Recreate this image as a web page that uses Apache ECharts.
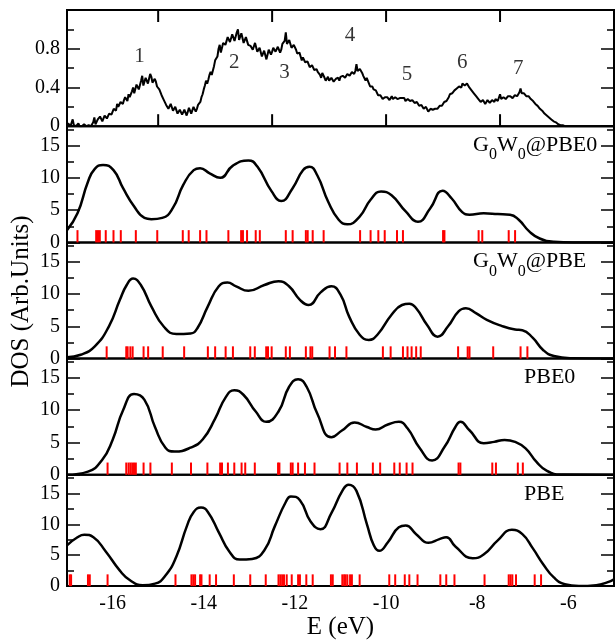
<!DOCTYPE html>
<html><head><meta charset="utf-8">
<script src="https://cdn.jsdelivr.net/npm/echarts@6/dist/echarts.min.js"></script>
<style>html,body{margin:0;padding:0;background:#fff}#c{width:615px;height:641px}</style>
</head><body><div id="c"></div>
<script>
// ---------- DATA ----------
const xTickLabels = [-16, -14, -12, -10, -8, -6];
const expTicksX = [-15, -12.5, -10, -7.5];
const expTicksMajorY = [0, 0.4, 0.8];
const expTicksMinorY = [0.2, 0.6, 1.0];
const dosTicksMajorY = [0, 5, 10, 15];
const dosTicksMinorY = [2.5, 7.5, 12.5, 17.5];

// experimental spectrum sampled from E=-17 to -5 every 0.025 eV (one row = 0.5 eV)
const expStartE = -17, expStepE = 0.025;
const expValues = [
0.00,0.03,0.01,0.00,0.02,0.07,0.01,0.00,0.00,0.02,0.03,0.00,0.01,0.00,0.00,0.02,0.01,0.00,0.00,0.01,
0.02,0.00,0.01,0.04,0.09,0.02,0.03,0.07,0.06,0.10,0.08,0.05,0.07,0.11,0.12,0.08,0.10,0.13,0.15,0.12,
0.14,0.18,0.20,0.16,0.23,0.20,0.21,0.25,0.26,0.23,0.27,0.30,0.30,0.26,0.33,0.30,0.31,0.36,0.40,0.34,
0.36,0.43,0.44,0.38,0.40,0.47,0.52,0.42,0.43,0.50,0.50,0.44,0.46,0.54,0.51,0.45,0.44,0.49,0.46,0.41,
0.40,0.38,0.36,0.32,0.30,0.27,0.25,0.22,0.23,0.18,0.19,0.23,0.21,0.16,0.15,0.20,0.19,0.13,0.13,0.17,
0.18,0.12,0.12,0.17,0.17,0.11,0.15,0.19,0.19,0.13,0.14,0.20,0.20,0.15,0.18,0.22,0.22,0.25,0.30,0.33,
0.38,0.42,0.47,0.44,0.48,0.53,0.56,0.53,0.55,0.62,0.68,0.66,0.72,0.80,0.84,0.76,0.77,0.86,0.88,0.84,
0.86,0.92,0.93,0.87,0.88,0.95,0.95,0.88,0.90,0.97,1.00,0.89,0.91,0.96,0.94,0.86,0.87,0.92,0.90,0.84,
0.85,0.83,0.83,0.79,0.80,0.86,0.84,0.77,0.76,0.81,0.80,0.72,0.72,0.78,0.78,0.69,0.71,0.79,0.80,0.74,
0.77,0.81,0.82,0.77,0.78,0.82,0.81,0.76,0.79,0.85,0.84,0.88,0.97,0.85,0.83,0.89,0.87,0.81,0.80,0.84,
0.82,0.79,0.75,0.77,0.76,0.72,0.68,0.71,0.71,0.66,0.64,0.67,0.66,0.61,0.60,0.63,0.62,0.58,0.56,0.59,
0.56,0.55,0.53,0.50,0.55,0.53,0.50,0.47,0.49,0.51,0.47,0.45,0.50,0.49,0.46,0.47,0.49,0.51,0.50,0.47,
0.51,0.49,0.52,0.54,0.50,0.52,0.54,0.55,0.52,0.53,0.56,0.58,0.54,0.57,0.64,0.57,0.55,0.59,0.57,0.55,
0.52,0.50,0.47,0.50,0.48,0.44,0.41,0.43,0.41,0.38,0.36,0.37,0.35,0.32,0.30,0.32,0.30,0.28,0.29,0.30,
0.28,0.30,0.30,0.27,0.29,0.31,0.28,0.27,0.30,0.29,0.28,0.30,0.29,0.27,0.29,0.28,0.29,0.26,0.27,0.28,
0.28,0.26,0.25,0.27,0.27,0.24,0.22,0.25,0.24,0.21,0.20,0.22,0.21,0.18,0.17,0.20,0.19,0.15,0.16,0.18,
0.18,0.17,0.16,0.18,0.20,0.18,0.19,0.21,0.23,0.21,0.22,0.25,0.27,0.26,0.27,0.30,0.33,0.31,0.34,0.36,
0.37,0.36,0.39,0.41,0.41,0.39,0.40,0.44,0.46,0.42,0.42,0.44,0.43,0.40,0.39,0.37,0.36,0.34,0.33,0.31,
0.29,0.28,0.27,0.25,0.25,0.27,0.26,0.23,0.24,0.27,0.26,0.24,0.25,0.27,0.27,0.25,0.28,0.29,0.26,0.28,
0.33,0.28,0.27,0.30,0.29,0.28,0.30,0.31,0.29,0.31,0.31,0.29,0.30,0.32,0.32,0.31,0.33,0.35,0.39,0.34,
0.32,0.34,0.33,0.31,0.29,0.31,0.30,0.28,0.27,0.26,0.25,0.23,0.22,0.21,0.20,0.18,0.17,0.16,0.15,0.13,
0.12,0.11,0.10,0.09,0.08,0.07,0.06,0.05,0.05,0.04,0.03,0.02,0.02,0.01,0.01,0.01,0.00,0.00,0.00,0.00,
0,0,0,0,0,0,0,0,0,0,0,0,0,0,0,0,0,0,0,0,
0,0,0,0,0,0,0,0,0,0,0,0,0,0,0,0,0,0,0,0,
0];

const peakNames = ['1','2','3','4','5','6','7'];
const peakE = [-15.41, -13.33, -12.23, -10.79, -9.54, -8.33, -7.10];
const peakV = [0.715, 0.66, 0.55, 0.94, 0.53, 0.66, 0.60];

const panelNames = ['G0W0@PBE0', 'G0W0@PBE', 'PBE0', 'PBE'];

const gwPbe0Dos = [[-17.0,1.9],[-16.77,4.5],[-16.54,9.4],[-16.39,11.4],[-16.21,12.0],[-15.98,11.2],[-15.77,8.4],[-15.53,5.6],[-15.30,3.8],[-15.15,3.6],[-14.91,3.8],[-14.68,5.3],[-14.45,8.9],[-14.22,11.2],[-14.08,11.5],[-13.87,10.7],[-13.64,10.0],[-13.36,11.9],[-13.02,12.7],[-12.82,11.7],[-12.51,7.9],[-12.30,6.4],[-12.05,8.4],[-11.82,11.2],[-11.68,11.7],[-11.51,10.4],[-11.27,6.3],[-11.04,3.5],[-10.85,2.8],[-10.58,4.0],[-10.34,6.6],[-10.11,7.9],[-9.88,7.3],[-9.57,4.8],[-9.30,3.2],[-9.03,5.3],[-8.76,8.0],[-8.56,6.8],[-8.33,4.7],[-8.17,4.3],[-7.86,4.5],[-7.55,4.4],[-7.28,4.3],[-7.09,3.5],[-6.86,1.7],[-6.63,0.6],[-6.32,0.1],[-5.9,0],[-5.0,0]];
const gwPbeDos = [[-17.0,0.2],[-16.7,0.6],[-16.39,1.9],[-16.08,5.0],[-15.84,9.1],[-15.69,11.4],[-15.55,12.4],[-15.38,11.4],[-15.15,8.1],[-14.87,4.9],[-14.60,3.8],[-14.29,3.9],[-14.14,4.7],[-13.91,8.1],[-13.67,11.2],[-13.48,11.8],[-13.29,11.2],[-13.02,10.5],[-12.67,11.4],[-12.36,12.0],[-12.13,11.2],[-11.89,9.1],[-11.70,8.3],[-11.43,10.3],[-11.20,11.2],[-11.00,9.9],[-10.81,6.5],[-10.58,3.7],[-10.38,2.9],[-10.19,3.7],[-9.88,6.8],[-9.65,8.3],[-9.49,8.5],[-9.34,7.8],[-9.10,5.2],[-8.87,3.4],[-8.64,5.0],[-8.41,7.3],[-8.25,7.8],[-8.02,7.0],[-7.79,6.0],[-7.48,5.1],[-7.17,4.5],[-7.01,4.4],[-6.78,3.2],[-6.55,1.3],[-6.32,0.4],[-5.93,0.05],[-5.0,0]];
const pbe0Dos = [[-17.0,0],[-16.54,0.5],[-16.23,2.3],[-16.0,5.4],[-15.77,10.0],[-15.53,12.5],[-15.30,11.6],[-15.07,7.4],[-14.84,4.2],[-14.64,3.6],[-14.29,4.2],[-14.02,5.5],[-13.75,8.7],[-13.52,12.0],[-13.33,13.1],[-13.13,12.4],[-12.86,9.8],[-12.63,8.2],[-12.36,9.8],[-12.13,13.6],[-11.93,14.8],[-11.74,13.6],[-11.51,9.5],[-11.20,5.8],[-10.96,6.9],[-10.69,8.1],[-10.42,7.4],[-10.23,7.0],[-9.96,7.8],[-9.72,8.2],[-9.53,7.2],[-9.26,4.1],[-8.99,2.2],[-8.72,4.3],[-8.48,7.4],[-8.37,8.2],[-8.17,6.9],[-7.86,4.9],[-7.63,5.1],[-7.40,5.4],[-7.17,5.1],[-6.94,4.1],[-6.70,2.0],[-6.47,0.6],[-6.16,0.05],[-5.0,0]];
const pbeDos = [[-17.0,6.6],[-16.77,7.9],[-16.62,8.3],[-16.42,7.9],[-16.15,5.6],[-15.84,2.5],[-15.61,0.9],[-15.34,0.15],[-15.07,0.4],[-14.84,1.7],[-14.60,4.8],[-14.37,9.7],[-14.22,12.0],[-14.06,12.7],[-13.91,12.0],[-13.67,8.7],[-13.44,5.6],[-13.21,4.3],[-12.94,4.4],[-12.67,5.8],[-12.44,9.7],[-12.20,13.6],[-12.09,14.5],[-11.89,13.9],[-11.66,10.5],[-11.44,9.2],[-11.20,11.8],[-10.96,15.4],[-10.82,16.4],[-10.65,15.4],[-10.42,10.0],[-10.27,6.6],[-10.15,5.7],[-9.96,7.1],[-9.72,9.5],[-9.57,9.8],[-9.34,8.4],[-9.07,7.0],[-8.83,7.6],[-8.68,7.9],[-8.48,6.4],[-8.10,4.5],[-7.86,5.1],[-7.55,7.4],[-7.24,9.1],[-7.01,8.4],[-6.78,6.1],[-6.55,3.5],[-6.32,1.4],[-6.08,0.3],[-5.77,0.0],[-5.39,0.15],[-5.15,0.6],[-5.0,1.1]];

const gwPbe0Levels = [-16.77,-16.36,-16.32,-16.28,-16.15,-15.98,-15.82,-15.49,-15.02,-14.46,-14.33,-14.08,-13.94,-13.46,-13.18,-13.14,-13.05,-12.86,-12.77,-12.20,-12.05,-11.76,-11.72,-11.61,-11.37,-10.57,-10.34,-10.17,-10.03,-9.76,-9.63,-8.75,-8.72,-7.97,-7.89,-7.31,-7.17];
const gwPbeLevels = [-16.13,-15.70,-15.67,-15.61,-15.56,-15.32,-15.22,-14.90,-14.43,-13.91,-13.75,-13.52,-13.36,-12.98,-12.88,-12.63,-12.59,-12.51,-12.20,-12.11,-11.76,-11.66,-11.62,-11.24,-11.12,-10.87,-10.07,-9.90,-9.63,-9.53,-9.44,-9.34,-9.24,-8.42,-8.21,-8.17,-7.65,-7.05,-6.90];
const pbe0Levels = [-16.11,-15.70,-15.65,-15.61,-15.57,-15.53,-15.49,-15.32,-15.17,-14.70,-14.28,-13.92,-13.64,-13.60,-13.47,-13.33,-13.17,-13.09,-12.88,-12.37,-12.34,-12.09,-12.05,-11.93,-11.78,-11.57,-11.02,-10.85,-10.64,-10.29,-10.13,-9.82,-9.70,-9.55,-9.42,-8.41,-8.37,-7.67,-7.59,-7.11,-7.00];
const pbeLevels = [-16.94,-16.91,-16.54,-16.50,-16.11,-14.62,-14.27,-14.23,-14.19,-14.08,-14.05,-13.87,-13.73,-13.34,-12.98,-12.64,-12.36,-12.32,-12.28,-12.24,-12.18,-12.07,-11.93,-11.89,-11.75,-11.61,-11.21,-11.17,-10.96,-10.92,-10.89,-10.85,-10.79,-10.75,-10.58,-9.93,-9.80,-9.59,-9.49,-9.31,-8.81,-8.68,-8.50,-7.84,-7.31,-7.27,-7.23,-7.15,-6.74,-6.60];
const stickHeight = 1.9;

// ---------- CHART ----------
const FONT = 'Liberation Serif';
const dosCurves = [gwPbe0Dos, gwPbeDos, pbe0Dos, pbeDos];
const dosLevels = [gwPbe0Levels, gwPbeLevels, pbe0Levels, pbeLevels];
const panelH = 116.2, panelTop0 = 10;
const EXP_YMAX = 1.2;
const EXP_TICK = 0.124; // x tick length in the spectrum panel, in axis units (about 12 px)

const grids = [], xAxes = [], yAxes = [], series = [];
for (let i = 0; i < 5; i++) {
  grids.push({left: 67, width: 547, top: panelTop0 + i * panelH, height: panelH,
    show: true, borderColor: '#000', borderWidth: 2, backgroundColor: 'transparent', containLabel: false});
  const isExp = i === 0, isLast = i === 4;
  const ymax = isExp ? EXP_YMAX : 18;
  const maj = isExp ? expTicksMajorY : dosTicksMajorY;
  const mnr = isExp ? expTicksMinorY : dosTicksMinorY;
  const base = yAxes.length;
  ['left', 'right'].forEach(pos => {
    yAxes.push({gridIndex: i, type: 'value', min: 0, max: ymax, position: pos,
      axisLine: {show: false}, splitLine: {show: false},
      axisTick: {show: true, inside: true, length: 13, customValues: maj, lineStyle: {color: '#000', width: 1.5}},
      axisLabel: pos === 'left' ? {show: true, customValues: maj, fontSize: 20, fontFamily: FONT, color: '#000', margin: 7} : {show: false}});
    yAxes.push({gridIndex: i, type: 'value', min: 0, max: ymax, position: pos,
      axisLine: {show: false}, splitLine: {show: false}, axisLabel: {show: false},
      axisTick: {show: true, inside: true, length: 7, customValues: mnr, lineStyle: {color: '#000', width: 1.5}}});
  });
  let invAxis = null;
  if (isExp) {
    // hidden inverted axis: bars on it grow downward from the top edge (for the top tick row)
    invAxis = yAxes.length;
    yAxes.push({gridIndex: i, type: 'value', min: 0, max: EXP_YMAX, inverse: true, show: false});
  }
  xAxes.push({
    gridIndex: i, type: 'value', min: -17, max: -5,
    axisLine: {show: false}, splitLine: {show: false}, axisTick: {show: false},
    axisLabel: isLast ? {show: true, customValues: xTickLabels, fontSize: 20, fontFamily: FONT, color: '#000', margin: 8} : {show: false},
    name: isLast ? 'E (eV)' : '', nameLocation: 'middle', nameGap: 23,
    nameTextStyle: {fontSize: 25, fontFamily: FONT, color: '#000'}
  });
  if (isExp) {
    series.push({type: 'line', xAxisIndex: i, yAxisIndex: base, showSymbol: false, silent: true,
      lineStyle: {color: '#000', width: 2}, data: expValues.map((v, k) => [expStartE + k * expStepE, v])});
    series.push({type: 'scatter', xAxisIndex: i, yAxisIndex: base, symbolSize: 0, silent: true,
      data: peakNames.map((n, k) => [peakE[k], peakV[k], n]),
      label: {show: true, position: 'inside', formatter: p => p.value[2], fontSize: 21, fontFamily: FONT, color: '#000'}});
    // inward x tick marks on the bottom and top edges of the spectrum panel, drawn as thin bars on the axis scale
    series.push({type: 'bar', xAxisIndex: i, yAxisIndex: base, barWidth: 2, barGap: '-100%', silent: true,
      itemStyle: {color: '#000'}, data: expTicksX.map(v => [v, EXP_TICK])});
    series.push({type: 'bar', xAxisIndex: i, yAxisIndex: invAxis, barWidth: 2, barGap: '-100%', silent: true,
      itemStyle: {color: '#000'}, data: expTicksX.map(v => [v, EXP_TICK])});
  } else {
    series.push({type: 'bar', xAxisIndex: i, yAxisIndex: base, barWidth: 2, silent: true,
      itemStyle: {color: '#ff0000'}, data: dosLevels[i - 1].map(e => [e, stickHeight])});
    series.push({type: 'line', xAxisIndex: i, yAxisIndex: base, showSymbol: false, silent: true, smooth: 0.5,
      lineStyle: {color: '#000', width: 2.5}, data: dosCurves[i - 1]});
  }
}

function titleText(name) {
  if (name.startsWith('G0W0')) return '{n|G}{s|0}{n|W}{s|0}{n|' + name.slice(4) + '}';
  return '{n|' + name + '}';
}
const titles = panelNames.map((nm, k) => ({
  text: titleText(nm),
  left: nm.startsWith('G0W0') ? 473 : 524,
  top: panelTop0 + (k + 1) * panelH + 8,
  padding: 0,
  textStyle: {fontWeight: 'normal', rich: {
    n: {fontSize: 22, fontFamily: FONT, fontWeight: 'normal', color: '#000', lineHeight: 24, verticalAlign: 'top'},
    s: {fontSize: 16, fontFamily: FONT, fontWeight: 'normal', color: '#000', lineHeight: 16, padding: [13, 0, 0, 0], verticalAlign: 'top'}
  }}
}));

const chart = echarts.init(document.getElementById('c'), null, {renderer: 'canvas'});
chart.setOption({
  animation: false,
  backgroundColor: '#fff',
  title: titles,
  grid: grids, xAxis: xAxes, yAxis: yAxes, series: series,
  graphic: [{type: 'text', rotation: Math.PI / 2, x: 21.5, y: 301.5,
    style: {text: 'DOS (Arb.Units)', fontSize: 25, fontFamily: FONT, fill: '#000', textAlign: 'center', textVerticalAlign: 'middle'}}]
});
</script></body></html>
